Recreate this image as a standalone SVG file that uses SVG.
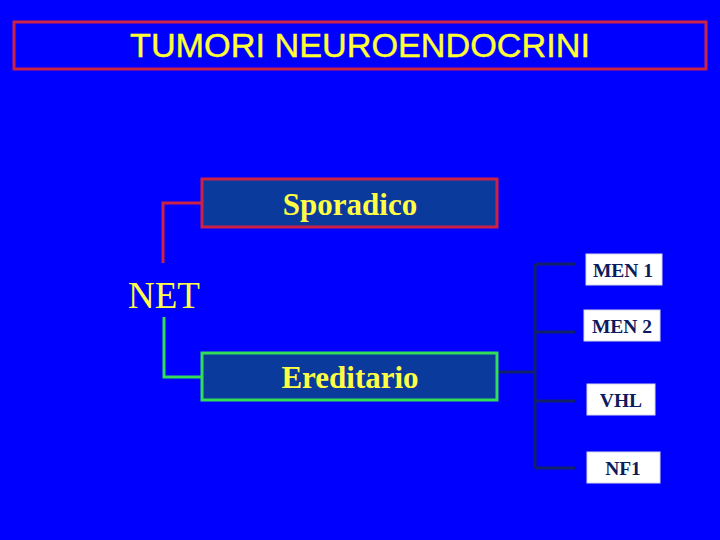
<svg xmlns="http://www.w3.org/2000/svg" width="720" height="540" viewBox="0 0 720 540">
<style>
.title{font-family:"Liberation Sans",Arial,sans-serif;font-size:33px;fill:#ffff33;text-anchor:middle;stroke:#ffff33;stroke-width:0.4}
.lbl{font-family:"Liberation Serif","Times New Roman",serif;font-weight:bold;font-size:31px;fill:#ffff44;text-anchor:middle}
.net{font-family:"Liberation Serif","Times New Roman",serif;font-size:37px;fill:#ffff44}
.sm{font-family:"Liberation Serif","Times New Roman",serif;font-weight:bold;font-size:19.5px;fill:#0d1a5c;text-anchor:middle}
.wbox{fill:#ffffff;stroke:#d8d8e8;stroke-width:1}
</style>
<rect width="720" height="540" fill="#0000ff"/>
<g id="title">
<rect x="14" y="22" width="692" height="47" fill="#0000ff" stroke="#cc2244" stroke-width="3"/>
<text class="title" x="360" y="57" textLength="460" lengthAdjust="spacingAndGlyphs">TUMORI NEUROENDOCRINI</text>
</g>
<g id="connectors" fill="none">
<polyline points="201,203 163,203 163,263" stroke="#cc2244" stroke-width="3"/>
<polyline points="164,317 164,377 201,377" stroke="#33dd55" stroke-width="3"/>
<g stroke="#12206a" stroke-width="3">
<line x1="497" y1="372" x2="535" y2="372"/>
<line x1="535" y1="264" x2="535" y2="468"/>
<line x1="535" y1="264" x2="575" y2="264"/>
<line x1="535" y1="332" x2="575" y2="332"/>
<line x1="535" y1="401" x2="575" y2="401"/>
<line x1="535" y1="468" x2="575" y2="468"/>
</g>
</g>
<g id="net"><text class="net" x="128" y="308">NET</text></g>
<g id="sporadico">
<rect x="202" y="179" width="295" height="48" fill="#0a3a9c" stroke="#cc2244" stroke-width="3"/>
<text class="lbl" x="350" y="215">Sporadico</text>
</g>
<g id="ereditario">
<rect x="202" y="353" width="295" height="47" fill="#0a3a9c" stroke="#33dd55" stroke-width="3"/>
<text class="lbl" x="350" y="388">Ereditario</text>
</g>
<g id="men1"><rect class="wbox" x="586" y="254" width="76" height="31"/><text class="sm" x="623" y="277">MEN 1</text></g>
<g id="men2"><rect class="wbox" x="584" y="310" width="76" height="31"/><text class="sm" x="622" y="333">MEN 2</text></g>
<g id="vhl"><rect class="wbox" x="587" y="384" width="68" height="31"/><text class="sm" x="621" y="407">VHL</text></g>
<g id="nf1"><rect class="wbox" x="587" y="452" width="73" height="31"/><text class="sm" x="623" y="475">NF1</text></g>
</svg>
